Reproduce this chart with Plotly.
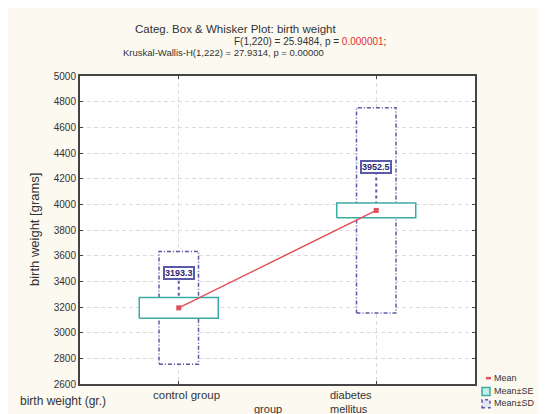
import plotly.graph_objects as go

# ---- data ----
categories = ["control group", "diabetes mellitus"]
means = [3193.3, 3952.5]
se = [80, 58]
sd = [440, 800]
label_offset = [275, 335]   # where the value boxes sit above each mean
y_ticks = list(range(2600, 5001, 200))

SE_HALF = 0.2
SD_HALF = 0.1
FONT = "Liberation Sans, Arial, sans-serif"
TXT = "#333333"
SD_COL = "#5a5aa8"
SE_COL = "#3aaca4"
RED = "#e0505c"

fig = go.Figure()
xs = list(range(len(categories)))

# SD boxes (dashed)
for i, (m, s) in enumerate(zip(means, sd)):
    fig.add_trace(go.Scatter(
        x=[i - SD_HALF, i + SD_HALF, i + SD_HALF, i - SD_HALF, i - SD_HALF],
        y=[m - s, m - s, m + s, m + s, m - s],
        mode="lines", fill="toself", fillcolor="white",
        line=dict(color=SD_COL, width=1.5, dash="4px,2px,1px,2px"),
        showlegend=False, hoverinfo="skip"))

# connector from mean to label
for i, (m, o) in enumerate(zip(means, label_offset)):
    fig.add_trace(go.Scatter(
        x=[i, i], y=[m, m + o], mode="lines",
        line=dict(color=SD_COL, width=2, dash="dot"),
        showlegend=False, hoverinfo="skip"))

# SE boxes
for i, (m, s) in enumerate(zip(means, se)):
    fig.add_trace(go.Scatter(
        x=[i - SE_HALF, i + SE_HALF, i + SE_HALF, i - SE_HALF, i - SE_HALF],
        y=[m - s, m - s, m + s, m + s, m - s],
        mode="lines", fill="toself", fillcolor="white",
        line=dict(color=SE_COL, width=1.5),
        showlegend=False, hoverinfo="skip"))

# mean line + markers
fig.add_trace(go.Scatter(
    x=xs, y=means, mode="lines+markers",
    line=dict(color=RED, width=1.5),
    marker=dict(symbol="square", size=5, color=RED),
    showlegend=False, hoverinfo="skip"))

annotations = []
# value labels
for i, (m, o) in enumerate(zip(means, label_offset)):
    annotations.append(dict(
        x=i, y=m + o, xref="x", yref="y", text=f"<b>{m:.1f}</b>",
        showarrow=False, font=dict(family=FONT, size=9, color="#2a2a70"),
        bgcolor="white", bordercolor=SD_COL, borderwidth=2, borderpad=0))

# category labels
annotations.append(dict(x=0, y=0, xref="x", yref="paper", yanchor="top",
                        xshift=8, yshift=-3, text=categories[0], showarrow=False,
                        font=dict(family=FONT, size=11.5, color=TXT)))
annotations.append(dict(x=1, y=0, xref="x", yref="paper", yanchor="top", xanchor="left",
                        xshift=-48, yshift=-3, text="diabetes<br>mellitus", showarrow=False,
                        align="left", font=dict(family=FONT, size=11, color=TXT)))
annotations.append(dict(x=0.5, y=0, xref="x", yref="paper", yanchor="top",
                        xshift=-10, yshift=-17, text="group", showarrow=False,
                        font=dict(family=FONT, size=11, color=TXT)))
annotations.append(dict(x=0, y=0, xref="paper", yref="paper", yanchor="top", xanchor="left",
                        xshift=-62, yshift=-8, text="birth weight (gr.)", showarrow=False,
                        font=dict(family=FONT, size=12, color=TXT)))
# y title
annotations.append(dict(x=0, y=0.5, xref="paper", yref="paper", xanchor="center",
                        xshift=-46, text="birth weight [grams]", textangle=-90, showarrow=False,
                        font=dict(family=FONT, size=13, color=TXT)))
# titles
annotations.append(dict(x=0.5, y=1, xref="paper", yref="paper", yanchor="middle",
                        xshift=-42, yshift=47, text="Categ. Box & Whisker Plot: birth weight",
                        showarrow=False, font=dict(family=FONT, size=11.5, color=TXT)))
annotations.append(dict(x=0.5, y=1, xref="paper", yref="paper", yanchor="middle",
                        xshift=32, yshift=35,
                        text="F(1,220) = 25.9484, p = <span style='color:#e03030'>0.000001</span>;",
                        showarrow=False, font=dict(family=FONT, size=10, color=TXT)))
annotations.append(dict(x=0.5, y=1, xref="paper", yref="paper", yanchor="middle",
                        xshift=-54, yshift=24,
                        text="Kruskal-Wallis-H(1,222) = 27.9314, p = 0.00000",
                        showarrow=False, font=dict(family=FONT, size=9.5, color=TXT)))

# manual legend
legend_items = ["Mean", "Mean±SE", "Mean±SD"]
for k, name in enumerate(legend_items):
    annotations.append(dict(x=1, y=0, xref="paper", yref="paper", xanchor="left",
                            yanchor="middle", xshift=17, yshift=6 - 12.5 * k,
                            text=name, showarrow=False,
                            font=dict(family=FONT, size=9, color=TXT)))

fig.add_shape(type="line", xref="paper", yref="paper", x0=1.0278, x1=1.0405,
              y0=0.019, y1=0.019, line=dict(color=RED, width=2.5))
fig.add_shape(type="rect", xref="paper", yref="paper", x0=1.0177, x1=1.0380,
              y0=-0.037, y1=-0.011, line=dict(color=SE_COL, width=1.5), fillcolor="#c8ece8")
fig.add_shape(type="rect", xref="paper", yref="paper", x0=1.0177, x1=1.0380,
              y0=-0.077, y1=-0.051, line=dict(color=SD_COL, width=1.5, dash="dot"),
              fillcolor="#e4e4f4")

axis_common = dict(showline=True, linecolor="#444444", linewidth=2, mirror="ticks",
                   ticks="inside", ticklen=3, tickcolor="#444444",
                   showgrid=True, gridcolor="#dcdcdc", griddash="4px,3px", gridwidth=1,
                   zeroline=False)

fig.update_layout(
    width=546, height=414,
    margin=dict(l=72, r=79, t=68, b=38),
    paper_bgcolor="#fcf9f1", plot_bgcolor="white",
    showlegend=False,
    annotations=annotations,
    xaxis=dict(range=[-0.5, 1.5], tickvals=xs, showticklabels=False, **axis_common),
    yaxis=dict(range=[2600, 5000], tickvals=y_ticks, ticktext=[str(v) for v in y_ticks],
               tickfont=dict(family=FONT, size=10, color=TXT), **axis_common),
)

fig.write_html("out.html")
